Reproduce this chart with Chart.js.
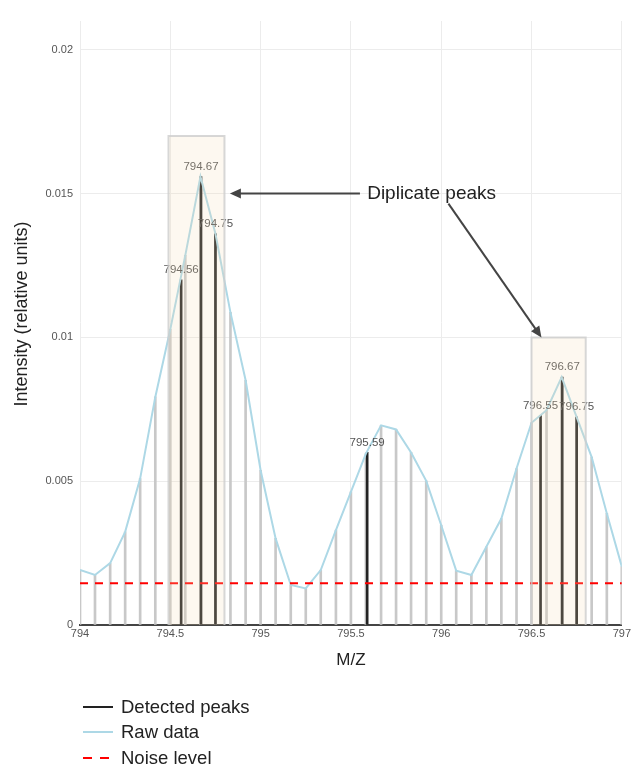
<!DOCTYPE html>
<html lang="en">
<head>
  <meta charset="UTF-8">
  <title>Detected peaks</title>
  <script src="https://cdn.jsdelivr.net/npm/chart.js"></script>
  <style>
    body { margin: 0; background: #fff; font-family: 'Liberation Sans', Arial, sans-serif; }
    #wrap { position: relative; width: 633px; height: 767px; }
    #legend { position: absolute; left: 83px; top: 694px; }
    .item { display: flex; align-items: center; height: 25.5px; font-size: 18.5px; color: #222; }
    .swatch { width: 30px; height: 2px; margin-right: 8px; }
  </style>
</head>
<body>
  <div id="wrap">
    <canvas id="peaks" width="633" height="767"></canvas>
    <div id="legend">
      <div class="item"><span class="swatch" style="background:#222"></span>Detected peaks</div>
      <div class="item"><span class="swatch" style="background:#add8e6"></span>Raw data</div>
      <div class="item"><span class="swatch" style="background:repeating-linear-gradient(to right, #ff0000 0 9px, transparent 9px 17px)"></span>Noise level</div>
    </div>
  </div>

  <script>
    // raw spectrum
    const rawMz = [794.000, 794.083, 794.167, 794.250, 794.333, 794.417, 794.500, 794.583, 794.667, 794.750,
                   794.833, 794.917, 795.000, 795.083, 795.167, 795.250, 795.333, 795.417, 795.500, 795.583,
                   795.667, 795.750, 795.833, 795.917, 796.000, 796.083, 796.167, 796.250, 796.333, 796.417,
                   796.500, 796.583, 796.667, 796.750, 796.833, 796.917, 797.000];
    const rawIntensity = [0.00191, 0.00174, 0.00215, 0.00324, 0.00509, 0.00793, 0.01028, 0.01285, 0.01559, 0.01360,
                          0.01087, 0.00851, 0.00538, 0.00301, 0.00139, 0.00127, 0.00191, 0.00330, 0.00463, 0.00596,
                          0.00694, 0.00680, 0.00600, 0.00501, 0.00347, 0.00189, 0.00174, 0.00272, 0.00370, 0.00544,
                          0.00703, 0.00747, 0.00862, 0.00723, 0.00584, 0.00388, 0.00203];

    // detected peaks
    const peakMz = [794.56, 794.67, 794.75, 795.59, 796.55, 796.67, 796.75];
    const peakIntensity = [0.0120, 0.01559, 0.0136, 0.0060, 0.00729, 0.00862, 0.00723];
    const peakLabels = ['794.56', '794.67', '794.75', '795.59', '796.55', '796.67', '796.75'];

    // noise level
    const noiseMz = [794, 797];
    const noiseLevel = [0.00145, 0.00145];

    // duplicate peak boxes
    const boxStart = [794.49, 796.5];
    const boxEnd = [794.8, 796.8];
    const boxTop = [0.017, 0.01];

    const xTicks = [794, 794.5, 795, 795.5, 796, 796.5, 797];
    const yTicks = [0, 0.005, 0.01, 0.015, 0.02];

    Chart.defaults.font.family = "'Liberation Sans', Arial, sans-serif";
    Chart.defaults.color = '#555';

    const pts = (xs, ys) => xs.map((x, i) => ({ x: x, y: ys[i] }));

    const boxSets = boxStart.map((b, i) => ({
      type: 'line',
      data: [{ x: b, y: 0 }, { x: b, y: boxTop[i] }, { x: boxEnd[i], y: boxTop[i] }, { x: boxEnd[i], y: 0 }],
      borderColor: 'rgba(205,205,205,0.8)',
      borderWidth: 2,
      backgroundColor: 'rgba(245,222,179,0.2)',
      fill: 'origin',
      pointRadius: 0,
      tension: 0,
      order: 1
    }));

    // peak labels go under the boxes, so draw them right after the raw line
    const peakText = {
      id: 'peakText',
      afterDatasetDraw(chart, args) {
        if (args.index !== 2) return;
        const { ctx, scales: { x, y } } = chart;
        ctx.save();
        ctx.font = "11.5px 'Liberation Sans', Arial, sans-serif";
        ctx.fillStyle = '#555';
        ctx.textAlign = 'center';
        ctx.textBaseline = 'bottom';
        peakMz.forEach((m, i) => {
          ctx.fillText(peakLabels[i], x.getPixelForValue(m), y.getPixelForValue(peakIntensity[i]) - 4);
        });
        ctx.restore();
      }
    };

    function arrow(ctx, x1, y1, x2, y2) {
      const a = Math.atan2(y2 - y1, x2 - x1);
      ctx.beginPath();
      ctx.moveTo(x1, y1);
      ctx.lineTo(x2 - 8 * Math.cos(a), y2 - 8 * Math.sin(a));
      ctx.stroke();
      ctx.beginPath();
      ctx.moveTo(x2, y2);
      ctx.lineTo(x2 - 11 * Math.cos(a) + 5 * Math.sin(a), y2 - 11 * Math.sin(a) - 5 * Math.cos(a));
      ctx.lineTo(x2 - 11 * Math.cos(a) - 5 * Math.sin(a), y2 - 11 * Math.sin(a) + 5 * Math.cos(a));
      ctx.closePath();
      ctx.fill();
    }

    const notes = {
      id: 'notes',
      afterDraw(chart) {
        const { ctx, scales: { x, y } } = chart;
        ctx.save();
        ctx.strokeStyle = '#444';
        ctx.fillStyle = '#444';
        ctx.lineWidth = 2;
        arrow(ctx, x.getPixelForValue(795.55), y.getPixelForValue(0.015), x.getPixelForValue(794.83), y.getPixelForValue(0.015));
        arrow(ctx, x.getPixelForValue(796.04), y.getPixelForValue(0.01465), x.getPixelForValue(796.555), y.getPixelForValue(0.01));
        ctx.fillStyle = '#222';
        ctx.font = "19px 'Liberation Sans', Arial, sans-serif";
        ctx.textBaseline = 'middle';
        ctx.fillText('Diplicate peaks', x.getPixelForValue(795.59), y.getPixelForValue(0.015));

        // y axis title
        ctx.translate(22, 314);
        ctx.rotate(-Math.PI / 2);
        ctx.textAlign = 'center';
        ctx.font = "18px 'Liberation Sans', Arial, sans-serif";
        ctx.fillText('Intensity (relative units)', 0, 0);
        ctx.restore();
      }
    };

    const fmt = v => String(Number(v.toFixed(4)));

    new Chart(document.getElementById('peaks'), {
      type: 'bar',
      data: {
        datasets: [
          {
            label: 'raw stems',
            data: pts(rawMz, rawIntensity),
            backgroundColor: '#c8c8c8',
            barThickness: 2,
            grouped: false,
            order: 5
          },
          {
            label: 'Detected peaks',
            data: pts(peakMz, peakIntensity),
            backgroundColor: '#222',
            barThickness: 2,
            grouped: false,
            order: 4
          },
          {
            type: 'line',
            label: 'Raw data',
            data: pts(rawMz, rawIntensity),
            borderColor: '#add8e6',
            borderWidth: 2,
            pointRadius: 0,
            tension: 0,
            order: 3
          },
          {
            type: 'line',
            label: 'Noise level',
            data: pts(noiseMz, noiseLevel),
            borderColor: '#ff0000',
            borderWidth: 2,
            borderDash: [8, 7],
            pointRadius: 0,
            order: 2
          },
          ...boxSets
        ]
      },
      options: {
        responsive: false,
        animation: false,
        layout: { padding: { left: 0, right: 11, top: 21, bottom: 92 } },
        plugins: { legend: { display: false }, tooltip: { enabled: false } },
        scales: {
          x: {
            type: 'linear',
            min: 794,
            max: 797,
            offset: false,
            afterFit: s => { s.height = 50; },
            afterBuildTicks: s => { s.ticks = xTicks.map(v => ({ value: v })); },
            grid: { color: '#ececec', drawTicks: false, offset: false },
            border: { color: '#444', width: 2 },
            ticks: { padding: 2, font: { size: 11 }, color: '#555', callback: fmt, maxRotation: 0 },
            title: { display: true, text: 'M/Z', color: '#222', font: { size: 17 }, padding: { top: 4, bottom: 4 } }
          },
          y: {
            min: 0,
            max: 0.021,
            afterFit: s => { s.width = 80; },
            afterBuildTicks: s => { s.ticks = yTicks.map(v => ({ value: v })); },
            grid: { color: '#ececec', drawTicks: false },
            border: { display: false },
            ticks: { padding: 7, font: { size: 11 }, color: '#555', callback: fmt }
          }
        }
      },
      plugins: [peakText, notes]
    });
  </script>
</body>
</html>
